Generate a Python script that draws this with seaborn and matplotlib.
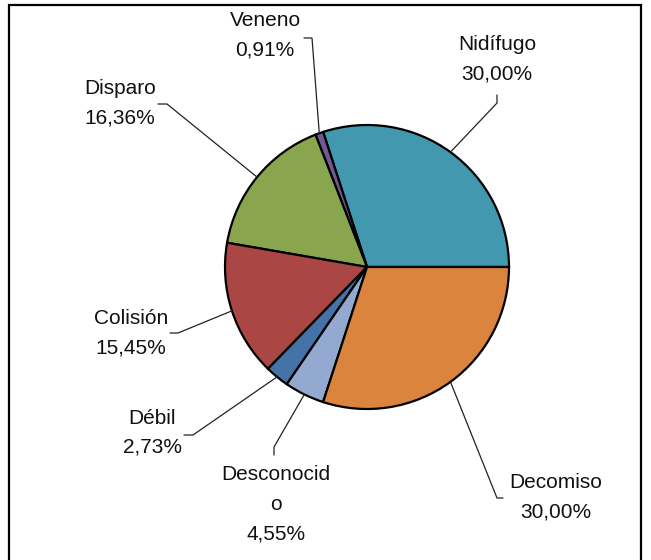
import numpy as np
import matplotlib
matplotlib.use("Agg")
import matplotlib.pyplot as plt
import seaborn as sns
from matplotlib.patches import Rectangle

# ---- data ----
categories = ["Nidífugo", "Veneno", "Disparo", "Colisión", "Débil", "Desconocido", "Decomiso"]
label_lines = [["Nidífugo"], ["Veneno"], ["Disparo"], ["Colisión"], ["Débil"], ["Desconocid", "o"], ["Decomiso"]]
values = [30.00, 0.91, 16.36, 15.45, 2.73, 4.55, 30.00]
pct_labels = ["30,00%", "0,91%", "16,36%", "15,45%", "2,73%", "4,55%", "30,00%"]
colors = ["#4198AF", "#71588F", "#89A54E", "#AA4643", "#4572A7", "#93A9CF", "#DB843D"]

sns.set_theme(style="white")
plt.rcParams["font.family"] = ["Liberation Sans", "DejaVu Sans"]

W, H = 651, 560
fig = plt.figure(figsize=(W / 100, H / 100), dpi=100)
ax = fig.add_axes([0, 0, 1, 1])

cx, cy, R = 367, 267, 142
wedges, _ = ax.pie(values, colors=colors, startangle=0, counterclock=True,
                   center=(cx, H - cy), radius=R,
                   wedgeprops=dict(edgecolor="black", linewidth=1.6))
ax.set_xlim(0, W)
ax.set_ylim(0, H)
ax.set_aspect("equal")
ax.axis("off")

# layout: text centre x, line y centres (pixel, top-down), leader stub (elbow, end)
layout = {
    "Nidífugo":    dict(x=497, ys=[45, 74],        elbow=(497, 103), end=(497, 95)),
    "Veneno":      dict(x=265, ys=[21, 50],        elbow=(312, 38),  end=(304, 38)),
    "Disparo":     dict(x=120, ys=[88, 118],       elbow=(167, 104), end=(158, 104)),
    "Colisión":    dict(x=131, ys=[318, 348],      elbow=(178, 333), end=(170, 333)),
    "Débil":       dict(x=152, ys=[418, 447],      elbow=(193, 435), end=(184, 435)),
    "Desconocido": dict(x=276, ys=[474, 505, 534], elbow=(274, 447), end=(274, 455)),
    "Decomiso":    dict(x=556, ys=[483, 512],      elbow=(497, 498), end=(503, 498)),
}

for w, cat, lines, pct in zip(wedges, categories, label_lines, pct_labels):
    L = layout[cat]
    mid = np.deg2rad((w.theta1 + w.theta2) / 2)
    ax_x = cx + R * np.cos(mid)
    ax_y = (H - cy) + R * np.sin(mid)
    ex, ey = L["elbow"]
    sx, sy = L["end"]
    ax.plot([ax_x, ex, sx], [ax_y, H - ey, H - sy], color="#222222", lw=0.9,
            solid_joinstyle="miter")
    for txt, yy in zip(lines + [pct], L["ys"]):
        ax.text(L["x"], H - yy, txt, ha="center", va="center", fontsize=15,
                color="#111111")

# outer frame
fig.patches.append(Rectangle((9 / W, -0.02), (641 - 9) / W, (H - 5) / H + 0.02,
                             transform=fig.transFigure, fill=False,
                             edgecolor="black", linewidth=1.6))

fig.savefig("out.png", dpi=100)
